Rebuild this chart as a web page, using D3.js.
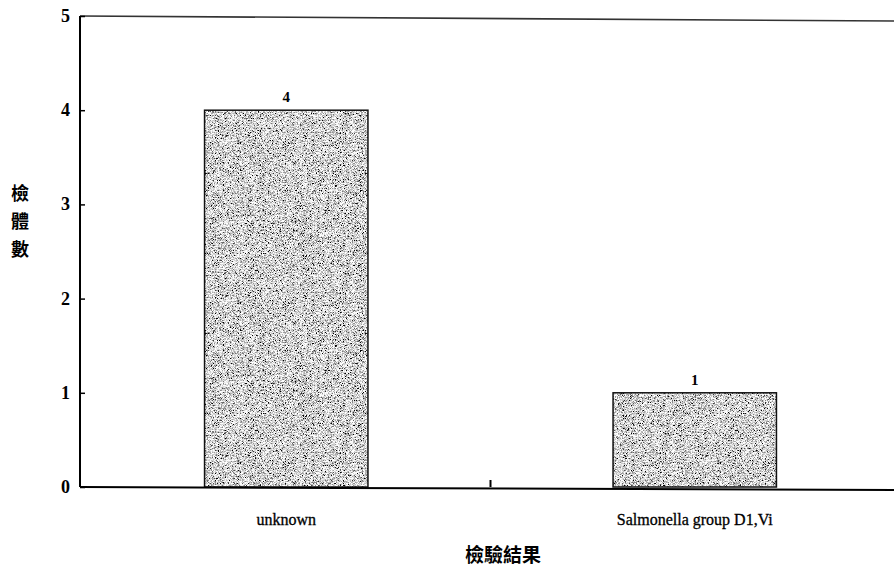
<!DOCTYPE html>
<html>
<head>
<meta charset="utf-8">
<script src="https://cdn.jsdelivr.net/npm/d3@7"></script>
<style>
  body { margin: 0; background: #fff; }
  .serif { font-family: "Liberation Serif", "DejaVu Serif", serif; }
  .cjk { font-family: "Noto Sans CJK TC", sans-serif; font-weight: 700; }
</style>
</head>
<body>
<div id="chart-area"></div>
<script>
// data
let categories = ["unknown", "Salmonella group D1,Vi"];
let counts = [4, 1];
let yTicks = [0, 1, 2, 3, 4, 5];

let W = 894, H = 569;

let svg = d3.select("#chart-area")
    .append("svg")
    .attr("width", W)
    .attr("height", H);

// grey stipple texture for the bars
let defs = svg.append("defs");
let f = defs.append("filter")
    .attr("id", "stipple")
    .attr("x", 0).attr("y", 0).attr("width", 1).attr("height", 1);
f.append("feTurbulence")
    .attr("type", "fractalNoise")
    .attr("baseFrequency", 1.6)
    .attr("numOctaves", 1)
    .attr("seed", 7)
    .attr("result", "noise");
f.append("feColorMatrix")
    .attr("in", "noise")
    .attr("type", "matrix")
    .attr("values", "3.2 0 0 0 -0.95  3.2 0 0 0 -0.95  3.2 0 0 0 -0.95  0 0 0 0 1")
    .attr("result", "grey");
f.append("feComposite")
    .attr("in", "grey")
    .attr("in2", "SourceGraphic")
    .attr("operator", "in");

// Scales
let x = d3.scaleBand()
    .domain(categories)
    .range([82, 899])
    .paddingInner(0.6)
    .paddingOuter(0.3);

let xStep = d3.scaleBand()
    .domain(categories)
    .range([82, 899]);

let y = d3.scaleLinear()
    .domain([0, 5])
    .range([487, 16]);

// Bars
let bars = svg.selectAll("g.bar")
    .data(categories)
    .enter()
    .append("g")
    .attr("class", "bar");

bars.append("rect")
    .attr("x", function(d){ return x(d); })
    .attr("y", function(d, i){ return y(counts[i]); })
    .attr("width", x.bandwidth())
    .attr("height", function(d, i){ return y(0) - y(counts[i]); })
    .attr("fill", "#a8a8a8")
    .attr("filter", "url(#stipple)");

bars.append("rect")
    .attr("x", function(d){ return x(d); })
    .attr("y", function(d, i){ return y(counts[i]); })
    .attr("width", x.bandwidth())
    .attr("height", function(d, i){ return y(0) - y(counts[i]); })
    .attr("fill", "none")
    .attr("stroke", "#111")
    .attr("stroke-width", 1.5);

// Value labels
bars.append("text")
    .attr("class", "serif")
    .attr("x", function(d){ return x(d) + x.bandwidth() / 2; })
    .attr("y", function(d, i){ return y(counts[i]) - 8; })
    .attr("text-anchor", "middle")
    .attr("font-size", "15px")
    .attr("font-weight", "bold")
    .text(function(d, i){ return counts[i]; });

// Top frame line
svg.append("line")
    .attr("x1", 80).attr("x2", W)
    .attr("y1", y(5)).attr("y2", y(5) + 5)
    .attr("stroke", "#333")
    .attr("stroke-width", 1.6);

// Y Axis
let yAxisCall = d3.axisRight(y)
    .tickValues(yTicks)
    .tickSize(5)
    .tickFormat("");
let yAxis = svg.append("g")
    .attr("class", "y axis")
    .attr("transform", "translate(80,0)")
    .call(yAxisCall);
yAxis.select(".domain").remove();
yAxis.selectAll("line").attr("stroke", "#000").attr("stroke-width", 1.5);

svg.append("line")
    .attr("x1", 80).attr("x2", 80)
    .attr("y1", y(5)).attr("y2", y(0))
    .attr("stroke", "#000")
    .attr("stroke-width", 2);

svg.selectAll("text.ytick")
    .data(yTicks)
    .enter()
    .append("text")
    .attr("class", "ytick serif")
    .attr("x", 70)
    .attr("y", function(d){ return y(d) + 6; })
    .attr("text-anchor", "end")
    .attr("font-size", "18px")
    .attr("font-weight", "bold")
    .text(function(d){ return d; });

// X Axis
svg.append("line")
    .attr("x1", 80).attr("x2", W)
    .attr("y1", y(0)).attr("y2", y(0) + 3)
    .attr("stroke", "#000")
    .attr("stroke-width", 2);

svg.append("line")
    .attr("x1", xStep(categories[1])).attr("x2", xStep(categories[1]))
    .attr("y1", y(0)).attr("y2", y(0) - 7)
    .attr("stroke", "#000")
    .attr("stroke-width", 2);

svg.selectAll("text.xtick")
    .data(categories)
    .enter()
    .append("text")
    .attr("class", "xtick serif")
    .attr("x", function(d){ return x(d) + x.bandwidth() / 2; })
    .attr("y", 525)
    .attr("text-anchor", "middle")
    .attr("font-size", "16px")
    .attr("stroke", "#000")
    .attr("stroke-width", 0.3)
    .text(function(d){ return d; });

// Y Label (stacked vertical)
let yLabel = ["檢", "體", "數"];
svg.selectAll("text.ylab")
    .data(yLabel)
    .enter()
    .append("text")
    .attr("class", "ylab cjk")
    .attr("x", 20)
    .attr("y", function(d, i){ return 200 + i * 28; })
    .attr("text-anchor", "middle")
    .attr("font-size", "18px")
    .text(function(d){ return d; });

// X Label
svg.append("text")
    .attr("class", "cjk")
    .attr("x", 503)
    .attr("y", 562)
    .attr("text-anchor", "middle")
    .attr("font-size", "19px")
    .text("檢驗結果");
</script>
</body>
</html>
